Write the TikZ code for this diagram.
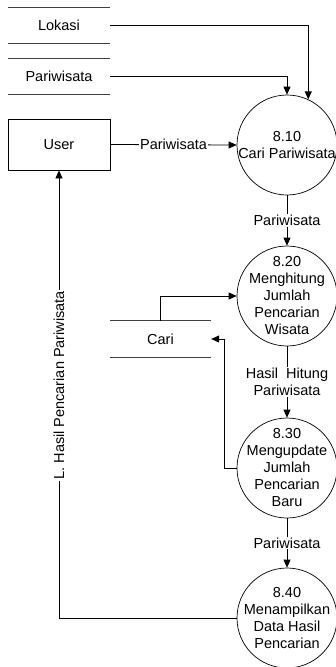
\documentclass[tikz,border=0pt]{standalone}
\usepackage{fontspec}
\setmainfont{Liberation Sans}
\usetikzlibrary{arrows.meta}

\tikzstyle{entity} = [rectangle, minimum width=102pt, minimum height=51pt, text centered, draw=black, line width=0.8pt]
\tikzstyle{store} = [rectangle, minimum width=102pt, minimum height=35pt, text centered]
\tikzstyle{storeLine} = [line width=0.9pt, draw=black!75]
\tikzstyle{process} = [circle, minimum size=100pt, inner sep=0pt, draw=black, line width=0.7pt]
\tikzstyle{procText} = [align=center, inner sep=0pt]
\tikzstyle{flowLabel} = [fill=white, inner sep=1pt, align=center]
\tikzstyle{arrow} = [line width=0.8pt,->,>={Triangle[length=8pt,width=7pt]}]

\begin{document}
\begin{tikzpicture}[x=1pt, y=-1pt, font=\fontsize{14.5}{17}\selectfont]
  \useasboundingbox (0,0) rectangle (335,667);

  \node (lokasi)[store] at (59,25.5) {Lokasi};
  \node (wisata)[store] at (59,76.5) {Pariwisata};
  \node (user)[entity] at (59,144.5) {User};
  \node (cari)[store, minimum width=101pt, minimum height=36pt] at (160.5,339) {Cari};

  \draw [storeLine] (lokasi.north west) -- (lokasi.north east) (lokasi.south west) -- (lokasi.south east);
  \draw [storeLine] (wisata.north west) -- (wisata.north east) (wisata.south west) -- (wisata.south east);
  \draw [storeLine] (cari.north west) -- (cari.north east) (cari.south west) -- (cari.south east);

  \node (p810)[process] at (287,145) {};
  \node (p820)[process] at (287,296) {};
  \node (p830)[process] at (287,468) {};
  \node (p840)[process] at (287,618) {};

  \node (t810)[procText] at (p810) {8.10\\Cari Pariwisata};
  \node (t820)[procText] at (p820) {8.20\\Menghitung\\Jumlah\\Pencarian\\Wisata};
  \node (t830)[procText] at (p830) {8.30\\Mengupdate\\Jumlah\\Pencarian\\Baru};
  \node (t840)[procText] at (p840) {8.40\\Menampilkan\\Data Hasil\\Pencarian};

  \draw [arrow] (lokasi.east) -| (p810.65);
  \draw [arrow] (wisata.east) -| (p810.north);
  \draw [arrow] (user.east) -- node[flowLabel]{Pariwisata} (p810.west);
  \draw [arrow] (p810.south) -- node[flowLabel]{Pariwisata} (p820.north);
  \draw [arrow] (cari.north) |- (p820.west);
  \draw [arrow] (p830.west) -| ([xshift=13pt]cari.east) -- (cari.east);
  \draw [arrow] (p820.south) -- node[flowLabel]{Hasil~~Hitung\\Pariwisata} (p830.north);
  \draw [arrow] (p830.south) -- node[flowLabel]{Pariwisata} (p840.north);
  \draw [arrow] (p840.west) -| node[flowLabel, pos=0.76, rotate=90]{L. Hasil Pencarian Pariwisata} (user.south);
\end{tikzpicture}
\end{document}
